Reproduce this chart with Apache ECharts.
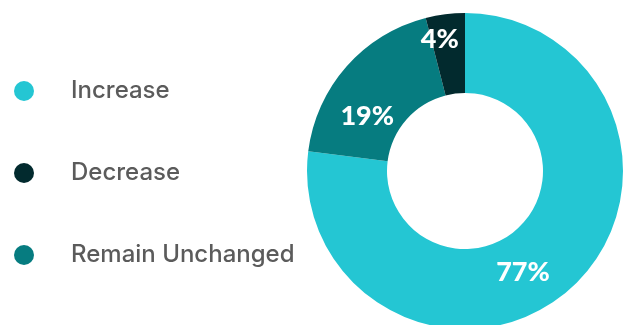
<!DOCTYPE html>
<html>
<head>
<meta charset="utf-8">
<style>
  html, body { margin: 0; padding: 0; background: #ffffff; }
  #chart { width: 624px; height: 325px; }
</style>
<script src="https://cdn.jsdelivr.net/npm/echarts@6/dist/echarts.min.js"></script>
</head>
<body>
<div id="chart"></div>
<script>
// Expected change in outlook, share of respondents
const categories = ['Increase', 'Remain Unchanged', 'Decrease'];
const shares = [77, 19, 4];
const legendOrder = ['Increase', 'Decrease', 'Remain Unchanged'];

const sliceColors = {
  'Increase': '#24c6d3',
  'Remain Unchanged': '#067c80',
  'Decrease': '#022a2e'
};
// nudges so the percentage labels sit where they read best in each ring slice
const labelNudge = {
  'Increase': [-22, 11],
  'Remain Unchanged': [-7, 25],
  'Decrease': [-10, -12]
};

const chart = echarts.init(document.getElementById('chart'), null, { renderer: 'canvas' });

chart.setOption({
  animation: false,
  backgroundColor: '#ffffff',
  legend: {
    data: legendOrder,
    orient: 'vertical',
    left: 9,
    top: 74,
    icon: 'circle',
    itemWidth: 20,
    itemHeight: 20,
    itemGap: 58,
    selectedMode: false,
    textStyle: {
      fontFamily: 'Inter',
      fontSize: 24,
      fontWeight: 500,
      lineHeight: 20,
      color: '#5b5b5b',
      padding: [0, 0, 0, 32]
    }
  },
  series: [{
    type: 'pie',
    center: [465, 171],
    radius: [78, 158],
    startAngle: 90,
    clockwise: true,
    silent: true,
    label: {
      show: true,
      position: 'inside',
      formatter: '{c}%',
      color: '#ffffff',
      fontFamily: 'Lato',
      fontWeight: 900,
      fontSize: 27
    },
    labelLine: { show: false },
    data: categories.map((name, i) => ({
      name: name,
      value: shares[i],
      itemStyle: { color: sliceColors[name] },
      label: { offset: labelNudge[name] }
    }))
  }]
});
</script>
</body>
</html>
